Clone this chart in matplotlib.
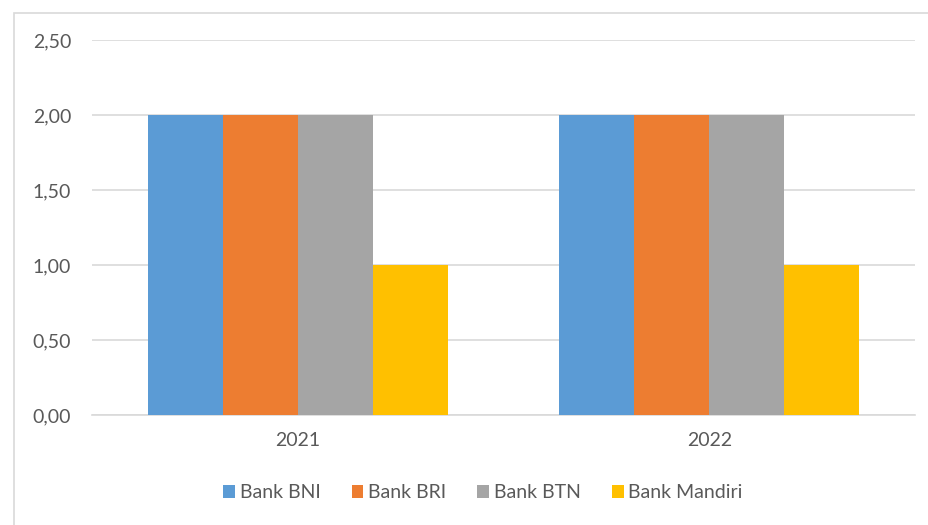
import numpy as np
import matplotlib.pyplot as plt
from matplotlib.patches import Rectangle

# data
years = ["2021", "2022"]
banks = ["Bank BNI", "Bank BRI", "Bank BTN", "Bank Mandiri"]
bni = [2.0, 2.0]
bri = [2.0, 2.0]
btn = [2.0, 2.0]
mandiri = [1.0, 1.0]
yticks = [0.0, 0.5, 1.0, 1.5, 2.0, 2.5]

colors = ["#5B9BD5", "#ED7D31", "#A5A5A5", "#FFC000"]
text_color = "#595959"
grid_color = "#D9D9D9"

plt.rcParams['font.family'] = ['Lato', 'DejaVu Sans']

fig = plt.figure(figsize=(9.29, 5.25), dpi=100)
ax = fig.add_axes([92 / 929, 1 - 415 / 525, (915 - 92) / 929, (415 - 40) / 525])

# chart area border
fig.patches.append(Rectangle((14 / 929, -0.1), 1.2, 1 - 12.5 / 525 + 0.1,
                             transform=fig.transFigure, fill=False,
                             edgecolor=grid_color, linewidth=1.2, zorder=0))

x = np.arange(len(years))
w = 0.182
series = [bni, bri, btn, mandiri]
for i, (vals, name) in enumerate(zip(series, banks)):
    ax.bar(x + (i - 1.5) * w, vals, width=w, color=colors[i], label=name, zorder=3)

ax.set_xlim(-0.5, 1.5)
ax.set_ylim(0, 2.5)
ax.set_yticks(yticks)
ax.set_yticklabels([f"{v:.2f}".replace(".", ",") for v in yticks])
ax.set_xticks(x)
ax.set_xticklabels(years)
ax.tick_params(axis='both', length=0, labelsize=14, colors=text_color)
ax.tick_params(axis='y', pad=15)
ax.tick_params(axis='x', pad=12)

ax.yaxis.grid(True, color=grid_color, linewidth=1.2, zorder=0)
for s in ["top", "right", "left"]:
    ax.spines[s].set_visible(False)
ax.spines["bottom"].set_color(grid_color)
ax.spines["bottom"].set_linewidth(1.2)

leg = fig.legend(loc='center', bbox_to_anchor=(483 / 929, 1 - 493 / 525), ncol=4,
                 frameon=False, fontsize=14, handlelength=0.6, handleheight=0.6,
                 handletextpad=0.25, columnspacing=1.6)
for t in leg.get_texts():
    t.set_color(text_color)

fig.savefig("out.png", dpi=100)
